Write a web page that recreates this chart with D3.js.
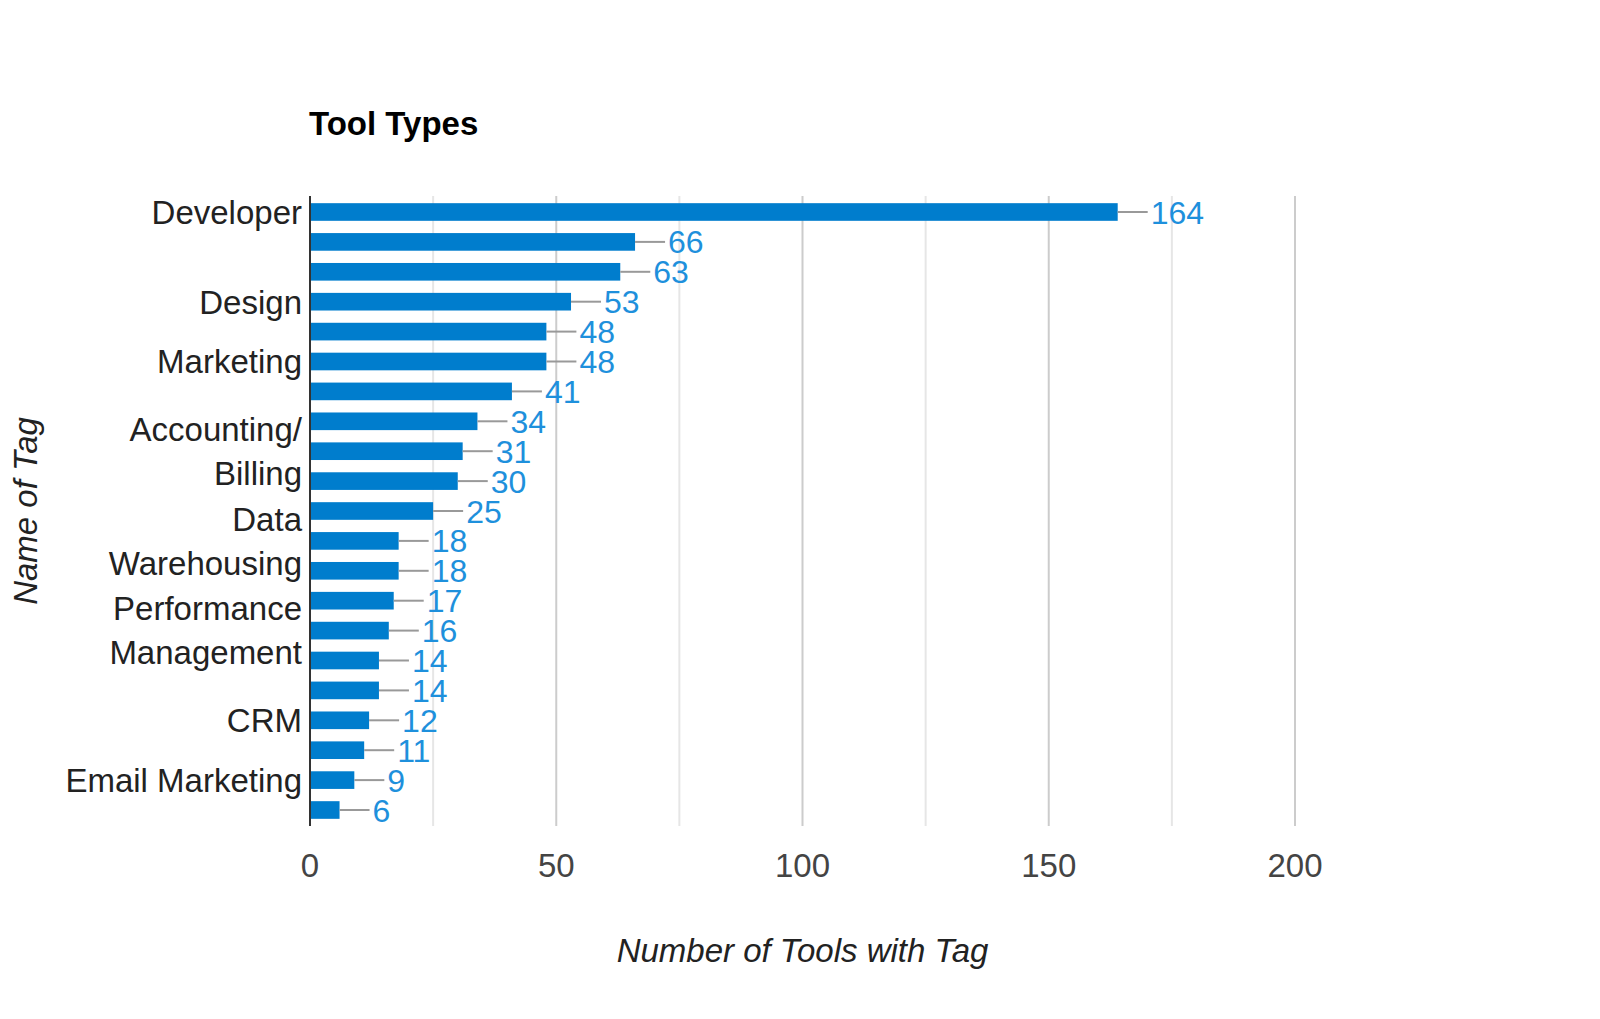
<!DOCTYPE html>
<html>
<head>
<meta charset="utf-8">
<title>Tool Types</title>
<script src="https://cdn.jsdelivr.net/npm/d3@7"></script>
<style>
    body { margin: 0; background: #fff; }
    text { font-family: Arial, "Liberation Sans", sans-serif; }
</style>
</head>
<body>
<div id="chart"></div>
<script>
// Tag names, only the ones the chart has room to print are known.
var categories = [
    "Developer", "", "", "Design", "", "Marketing", "", "",
    "Accounting/\nBilling", "", "", "Data\nWarehousing", "", "",
    "Performance\nManagement", "", "", "CRM", "", "Email Marketing", ""
];

var values = [164, 66, 63, 53, 48, 48, 41, 34, 31, 30, 25, 18, 18, 17, 16, 14, 14, 12, 11, 9, 6];

var majorTicks = [0, 50, 100, 150, 200];
var minorTicks = [25, 75, 125, 175];

var width = 1600;
var height = 1019;

var svg = d3.select("#chart")
    .append("svg")
    .attr("width", width)
    .attr("height", height);

var x = d3.scaleLinear()
    .domain([0, 200])
    .range([310, 1295]);

var y = d3.scaleBand()
    .domain(d3.range(values.length))
    .range([196, 826])
    .paddingInner(0.41)
    .paddingOuter(0.24);

// Minor and major gridlines.
svg.selectAll("line.minor")
    .data(minorTicks)
    .enter()
    .append("line")
    .attr("class", "minor")
    .attr("x1", function (d) { return x(d); })
    .attr("x2", function (d) { return x(d); })
    .attr("y1", 196)
    .attr("y2", 826)
    .style("stroke", "#e6e6e6")
    .style("stroke-width", 2);

svg.selectAll("line.major")
    .data(majorTicks.slice(1))
    .enter()
    .append("line")
    .attr("class", "major")
    .attr("x1", function (d) { return x(d); })
    .attr("x2", function (d) { return x(d); })
    .attr("y1", 196)
    .attr("y2", 826)
    .style("stroke", "#cccccc")
    .style("stroke-width", 2);

// Bars.
svg.selectAll("rect.bar")
    .data(values)
    .enter()
    .append("rect")
    .attr("class", "bar")
    .attr("x", x(0))
    .attr("y", function (d, i) { return y(i); })
    .attr("width", function (d) { return x(d) - x(0); })
    .attr("height", y.bandwidth())
    .style("fill", "#007dcd");

// Leader lines and value labels.
svg.selectAll("line.leader")
    .data(values)
    .enter()
    .append("line")
    .attr("class", "leader")
    .attr("x1", function (d) { return x(d); })
    .attr("x2", function (d) { return x(d) + 30; })
    .attr("y1", function (d, i) { return y(i) + y.bandwidth() / 2; })
    .attr("y2", function (d, i) { return y(i) + y.bandwidth() / 2; })
    .style("stroke", "#999999")
    .style("stroke-width", 2);

svg.selectAll("text.value")
    .data(values)
    .enter()
    .append("text")
    .attr("class", "value")
    .attr("x", function (d) { return x(d) + 33; })
    .attr("y", function (d, i) { return y(i) + y.bandwidth() / 2; })
    .attr("dy", "0.36em")
    .style("font-size", "32px")
    .style("fill", "#1e90dc")
    .text(function (d) { return d; });

// Axis line.
svg.append("line")
    .attr("x1", x(0))
    .attr("x2", x(0))
    .attr("y1", 196)
    .attr("y2", 826)
    .style("stroke", "#333333")
    .style("stroke-width", 2);

// Category labels, split over lines where needed.
var labels = svg.selectAll("text.cat")
    .data(categories)
    .enter()
    .append("text")
    .attr("class", "cat")
    .attr("text-anchor", "end")
    .style("font-size", "33px")
    .style("fill", "#222222");

labels.each(function (d, i) {
    var lines = d.split("\n");
    var cy = y(i) + y.bandwidth() / 2;
    var lineHeight = 44;
    var top = cy - (lines.length - 1) * lineHeight / 2;

    lines.forEach(function (line, k) {
        d3.select(this)
            .append("tspan")
            .attr("x", 302)
            .attr("y", top + k * lineHeight)
            .attr("dy", "0.36em")
            .text(line);
    }, this);
});

// Tick labels.
svg.selectAll("text.tick")
    .data(majorTicks)
    .enter()
    .append("text")
    .attr("class", "tick")
    .attr("x", function (d) { return x(d); })
    .attr("y", 877)
    .attr("text-anchor", "middle")
    .style("font-size", "33px")
    .style("fill", "#444444")
    .text(function (d) { return d; });

// Title.
svg.append("text")
    .attr("x", 309)
    .attr("y", 135)
    .style("font-size", "33px")
    .style("font-weight", "bold")
    .style("fill", "#000000")
    .text("Tool Types");

// Axis titles.
svg.append("text")
    .attr("x", (x(0) + x(200)) / 2)
    .attr("y", 962)
    .attr("text-anchor", "middle")
    .style("font-size", "33px")
    .style("font-style", "italic")
    .style("fill", "#222222")
    .text("Number of Tools with Tag");

svg.append("text")
    .attr("transform", "translate(37,511) rotate(-90)")
    .attr("text-anchor", "middle")
    .style("font-size", "33px")
    .style("font-style", "italic")
    .style("fill", "#222222")
    .text("Name of Tag");
</script>
</body>
</html>
